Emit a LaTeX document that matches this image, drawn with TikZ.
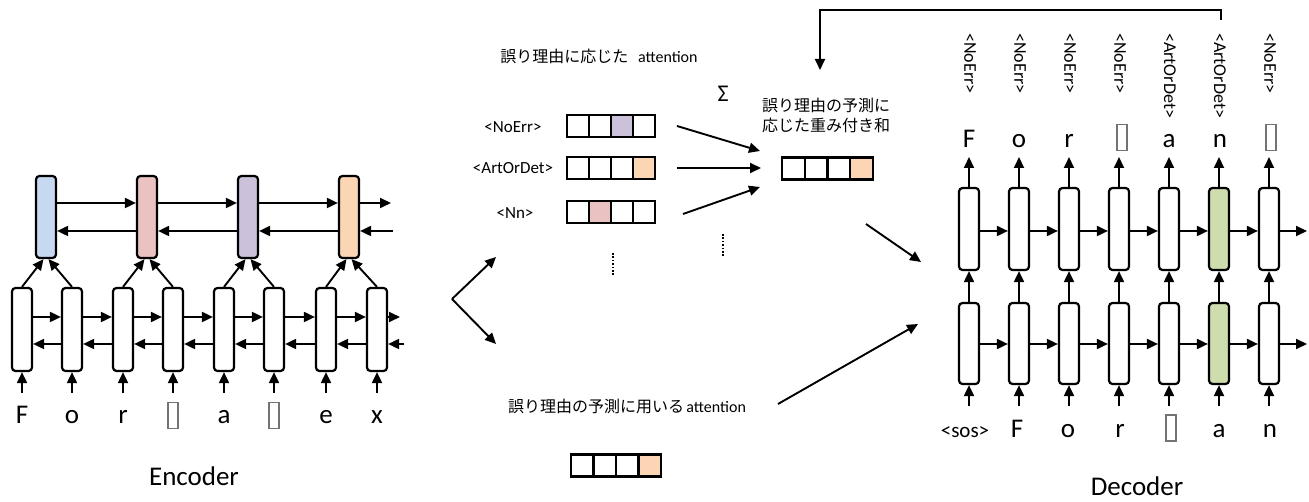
\documentclass[tikz,border=0pt]{standalone}
\usepackage{fontspec}
\setmainfont{Carlito}
\newfontfamily\jpfont{Noto Sans CJK JP}
\usetikzlibrary{arrows.meta}

\definecolor{cblue}{HTML}{C6D9F1}
\definecolor{cpink}{HTML}{E9C2C1}
\definecolor{cpurple}{HTML}{CCC1DA}
\definecolor{corange}{HTML}{FCD5B5}
\definecolor{cgreen}{HTML}{CEDDAE}

\begin{document}
\begin{tikzpicture}[x=1pt,y=-1pt,
  lstm/.style={draw, rounded corners=3.5pt, line width=2.2pt, minimum width=20pt, minimum height=82pt, inner sep=0pt},
  arr/.style={line width=1.9pt, -{Triangle[length=11pt,width=10pt]}},
  vcell/.style={draw, line width=2.2pt, minimum width=22pt, minimum height=22pt, inner sep=0pt},
  letter/.style={font=\fontsize{27}{30}\selectfont, anchor=base, inner sep=0pt},
  small/.style={font=\fontsize{17}{20}\selectfont},
  tag/.style={font=\fontsize{18}{20}\selectfont, rotate=-90, anchor=west, inner sep=0pt},
  jp/.style={font=\jpfont\fontsize{16}{20}\selectfont},
  tofu/.style={draw=black!55, line width=1.2pt, minimum width=10pt, minimum height=26pt, inner sep=0pt},
  dotline/.style={line width=1.8pt, dash pattern=on 1.6pt off 1.8pt}
]
\useasboundingbox (0,0) rectangle (1309,502);

% ---------------- Encoder ----------------
\foreach \x/\c [count=\i] in {46/cblue,147/cpink,248/cpurple,349/corange}
  \node[lstm, fill=\c] (et\i) at (\x,217) {};
\foreach \x [count=\i] in {22,72,123,173,224,274,326,377}
  \node[lstm, minimum height=83pt] (eb\i) at (\x,329.5) {};

% upper bidirectional layer
\foreach \i/\j in {1/2,2/3,3/4} {
  \draw[arr] (et\i.east |- 0,203) -- (et\j.west |- 0,203);
  \draw[arr] (et\j.west |- 0,231) -- (et\i.east |- 0,231);
}
\coordinate (etf) at (391,203);
\coordinate (etb) at (393,231);
\draw[arr] (et4.east |- 0,203) -- (etf);
\draw[arr] (etb) -- (et4.east |- 0,231);

% lower bidirectional layer
\foreach \i/\j in {1/2,2/3,3/4,4/5,5/6,6/7,7/8} {
  \draw[arr] (eb\i.east |- 0,317) -- (eb\j.west |- 0,317);
  \draw[arr] (eb\j.west |- 0,344) -- (eb\i.east |- 0,344);
}
\coordinate (ebf) at (400,317);
\coordinate (ebb) at (404,344);
\draw[arr] (eb8.east |- 0,317) -- (ebf);
\draw[arr] (ebb) -- (eb8.east |- 0,344);

% pairs of lower cells feed one upper cell
\foreach \k/\a/\b in {1/1/2,2/3/4,3/5/6,4/7/8} {
  \draw[arr] (eb\a.north) -- ([xshift=-2.5pt]et\k.south);
  \draw[arr] (eb\b.north) -- ([xshift=2.5pt]et\k.south);
}

% inputs
\foreach \x [count=\i] in {22,72,123,173,224,274,326,377} {
  \coordinate (es\i) at (\x,393);
  \draw[arr] (es\i) -- (eb\i.south);
}
\node[letter] (el1) at (22,424) {F};
\node[letter] (el2) at (72,424) {o};
\node[letter] (el3) at (123,424) {r};
\node[tofu]   (el4) at (173,415.5) {};
\node[letter] (el5) at (224,424) {a};
\node[tofu]   (el6) at (274,415.5) {};
\node[letter] (el7) at (326,424) {e};
\node[letter] (el8) at (377,424) {x};
\node[letter] (enc) at (194,485) {Encoder};

% branch towards the two attentions
\coordinate (br) at (452,299);
\coordinate (bru) at (496,257);
\coordinate (brd) at (496,344);
\draw[arr] (br) -- (bru);
\draw[arr] (br) -- (brd);

% ---------------- Attention ----------------
\node[jp] (ttl) at (599,56) {誤り理由に応じた\hspace{0.6em}{\rmfamily attention}};

\node[small] (lno) at (513,127) {<NoErr>};
\node[small] (lad) at (513,168) {<ArtOrDet>};
\node[small] (lnn) at (515,213) {<Nn>};

\foreach \c [count=\j] in {white,white,cpurple,white}
  \node[vcell, fill=\c] (ra\j) at ({567+22*(\j-0.5)},126) {};
\foreach \c [count=\j] in {white,white,white,corange}
  \node[vcell, fill=\c] (rb\j) at ({567+22*(\j-0.5)},168) {};
\foreach \c [count=\j] in {white,cpink,white,white}
  \node[vcell, fill=\c] (rc\j) at ({567+22*(\j-0.5)},212) {};

\coordinate (r1s) at (677,126);  \coordinate (r1e) at (760,151);
\coordinate (r2s) at (677,168);  \coordinate (r2e) at (761,168);
\coordinate (r3s) at (683,214);  \coordinate (r3e) at (760,187);
\draw[arr] (r1s) -- (r1e);
\draw[arr] (r2s) -- (r2e);
\draw[arr] (r3s) -- (r3e);

\node[font=\fontsize{24}{26}\selectfont, anchor=base, inner sep=0pt] (sig) at (723,102) {Σ};
\node[jp, align=center] (sumlbl) at (826,115) {誤り理由の予測に\\応じた重み付き和};
\foreach \c [count=\j] in {white,white,white,corange}
  \node[vcell, minimum width=22.75pt, fill=\c] (sm\j) at ({782+22.75*(\j-0.5)},168.5) {};

\coordinate (d1a) at (613,253); \coordinate (d1b) at (613,276);
\coordinate (d2a) at (723,234); \coordinate (d2b) at (723,257);
\draw[dotline] (d1a) -- (d1b);
\draw[dotline] (d2a) -- (d2b);

\node[jp] (pred) at (627,406) {誤り理由の予測に用いる\hspace{0.15em}{\rmfamily attention}};
\foreach \c [count=\j] in {white,white,white,corange}
  \node[vcell, minimum width=22.5pt, fill=\c] (pv\j) at ({571+22.5*(\j-0.5)},465.5) {};

% into the decoder
\coordinate (toDecA) at (866,224); \coordinate (toDecAe) at (921,262);
\coordinate (toDecB) at (778,404); \coordinate (toDecBe) at (918,324);
\draw[arr] (toDecA) -- (toDecAe);
\draw[arr] (toDecB) -- (toDecBe);

% ---------------- Decoder ----------------
\foreach \x/\c [count=\i] in {969/white,1019/white,1069/white,1119/white,1169/white,1219/cgreen,1269/white} {
  \node[lstm, fill=\c] (dt\i) at (\x,229) {};
  \node[lstm, fill=\c, minimum height=81pt] (db\i) at (\x,343.5) {};
  \draw[arr] (db\i.north) -- (dt\i.south);
  \coordinate (din\i) at (\x,406);
  \draw[arr] (din\i) -- (db\i.south);
  \coordinate (dout\i) at (\x,157);
  \draw[arr] (dt\i.north) -- (dout\i);
}
\foreach \i/\j in {1/2,2/3,3/4,4/5,5/6,6/7} {
  \draw[arr] (dt\i.east |- 0,231) -- (dt\j.west |- 0,231);
  \draw[arr] (db\i.east |- 0,344) -- (db\j.west |- 0,344);
}
\coordinate (dtf) at (1307,231);
\coordinate (dbf) at (1307,344);
\draw[arr] (dt7.east |- 0,231) -- (dtf);
\draw[arr] (db7.east |- 0,344) -- (dbf);

% predicted error tags
\foreach \x/\t [count=\i] in {970/<NoErr>,1020/<NoErr>,1070/<NoErr>,1120/<NoErr>,1170/<ArtOrDet>,1220/<ArtOrDet>,1270/<NoErr>}
  \node[tag] (tg\i) at (\x,33) {\t};

% outputs
\node[letter] (do1) at (969,148) {F};
\node[letter] (do2) at (1019,148) {o};
\node[letter] (do3) at (1069,148) {r};
\node[tofu]   (do4) at (1122,137.5) {};
\node[letter] (do5) at (1169,148) {a};
\node[letter] (do6) at (1220,148) {n};
\node[tofu]   (do7) at (1271,137.5) {};

% inputs
\node[font=\fontsize{21}{24}\selectfont, anchor=base, inner sep=0pt] (di1) at (965,437) {<sos>};
\node[letter] (di2) at (1017,437) {F};
\node[letter] (di3) at (1068,437) {o};
\node[letter] (di4) at (1120,437) {r};
\node[tofu]   (di5) at (1171,428) {};
\node[letter] (di6) at (1219,437) {a};
\node[letter] (di7) at (1270,437) {n};
\node[letter] (dec) at (1137,495) {Decoder};

% feedback of the predicted tag
\coordinate (fbA) at (1221,20);
\coordinate (fbB) at (820,10);
\coordinate (fbC) at (820,70);
\draw[arr] (fbA) |- (fbB) -- (fbC);
\end{tikzpicture}
\end{document}
